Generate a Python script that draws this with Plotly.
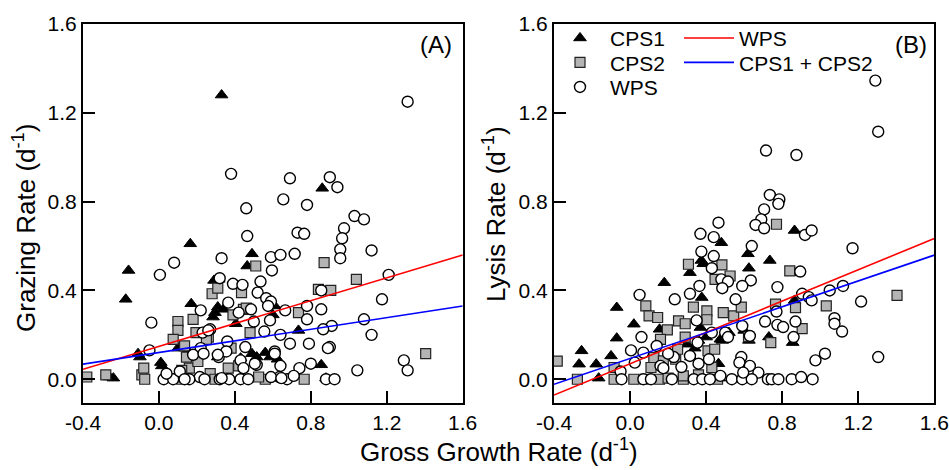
import plotly.graph_objects as go

# ---------------- DATA ----------------
# Panel A: Grazing rate vs gross growth rate
a_cps1_x = [0.33, 0.86, 0.165, -0.16, -0.175, 0.49, 0.465, 0.29, 0.315, 0.17, 0.31, 0.34, 0.295, 0.285, 0.405,
            0.61, 0.60, 0.735, -0.10, -0.11, 0.015, 0.01, -0.26, -0.24, 0.16, 0.235, 0.10, 0.43, 0.49, 0.515,
            0.56, 0.585, 0.625, 0.855, 0.88, 0.36, 0.31, 0.15]
a_cps1_y = [1.28, 0.86, 0.61, 0.49, 0.36, 0.565, 0.51, 0.445, 0.45, 0.34, 0.325, 0.315, 0.30, 0.28, 0.25,
            0.33, 0.29, 0.22, 0.10, 0.115, 0.06, 0.075, 0.01, 0.005, 0.01, 0.005, 0.14, 0.095, 0.115, 0.10,
            0.12, 0.10, 0.09, 0.065, 0.005, 0.005, 0.10, 0.13]

a_cps2_x = [-0.38, -0.28, -0.09, -0.075, -0.08, 0.10, 0.10, 0.075, 0.135, 0.18, 0.195, 0.145, 0.16, 0.12, 0.12,
            0.205, 0.28, 0.31, 0.435, 0.445, 0.46, 0.51, 0.48, 0.39, 0.365, 0.27, 0.295, 0.26, 0.25, 0.87,
            1.04, 0.84, 0.905, 0.735, 1.405, 0.765, 0.56, 0.525, 0.38, 0.42]
a_cps2_y = [0.01, 0.02, 0.02, 0.0, 0.05, 0.26, 0.22, 0.18, 0.15, 0.27, 0.21, 0.10, 0.05, 0.04, 0.0,
            0.08, 0.385, 0.41, 0.39, 0.315, 0.32, 0.51, 0.21, 0.29, 0.05, 0.025, 0.0, 0.19, 0.18, 0.525,
            0.45, 0.405, 0.40, 0.30, 0.115, 0.0, 0.0, 0.01, 0.14, 0.06]

a_wps_x = [1.31, 0.38, 0.69, 0.90, 0.94, 0.655, 0.78, 0.46, 1.03, 1.08, 0.975, 0.965, 0.955, 0.955, 0.73,
           0.765, 0.465, 1.12, 0.33, 0.59, 0.64, 0.715, 0.08, 0.005, 0.595, 1.21, 1.175, 0.855, 0.855, -0.04,
           -0.05, 0.22, 0.27, 0.23, 0.32, 0.39, 0.44, 0.365, 0.42, 0.535, 0.52, 0.565, 0.59, 0.575, 0.485,
           0.50, 0.585, 0.555, 0.64, 0.665, 0.78, 0.78, 0.91, 0.865, 1.08, 1.12, 0.69, 0.79, 0.90, 0.61,
           0.455, 0.36, 0.22, 0.18, 0.315, 0.43, 0.445, 0.515, 0.64, 0.74, 0.80, 1.045, 1.29, 1.31, 0.025,
           0.075, 0.04, 0.11, 0.32, 0.37, 0.43, 0.47, 0.635, 0.675, 0.71, 0.88, 0.925, 0.215, 0.235, 0.24,
           0.33, 0.59, 0.645, 0.505, 0.61, 0.355, 0.31, 0.26, 0.89, 0.16, 0.135]
a_wps_y = [1.25, 0.925, 0.905, 0.91, 0.865, 0.81, 0.785, 0.77, 0.735, 0.72, 0.68, 0.635, 0.585, 0.545, 0.66,
           0.655, 0.645, 0.58, 0.545, 0.55, 0.56, 0.565, 0.525, 0.47, 0.49, 0.47, 0.36, 0.315, 0.40, 0.255,
           0.13, 0.31, 0.225, 0.21, 0.455, 0.43, 0.425, 0.345, 0.30, 0.44, 0.39, 0.365, 0.35, 0.33, 0.315,
           0.26, 0.265, 0.215, 0.20, 0.31, 0.33, 0.27, 0.24, 0.225, 0.27, 0.20, 0.16, 0.16, 0.145, 0.125,
           0.145, 0.17, 0.14, 0.11, 0.10, 0.085, 0.05, 0.065, 0.06, 0.05, 0.07, 0.04, 0.085, 0.04, 0.0,
           0.0, 0.025, 0.035, 0.0, 0.0, 0.0, 0.0, 0.01, 0.0, 0.015, 0.0, 0.0, 0.01, 0.115, 0.0,
           0.005, 0.01, 0.005, 0.07, 0.115, 0.125, 0.11, 0.22, 0.14, 0.0, 0.0]

# Panel B: Lysis rate vs gross growth rate
b_cps1_x = [0.48, 0.375, 0.385, 0.315, 0.62, 0.625, 0.735, 0.865, 0.18, -0.07, 0.02, -0.07, -0.255, -0.10,
            -0.268, -0.178, -0.165, 0.155, 0.377, 0.37, 0.30, 0.36, 0.475, 0.485, 0.52, 0.60, 0.625, 0.73,
            0.855, 0.865, 0.865, 0.465, 0.47, 0.34, 0.40, 0.32]
b_cps1_y = [0.615, 0.535, 0.52, 0.48, 0.565, 0.50, 0.535, 0.67, 0.435, 0.323, 0.248, 0.185, 0.128, 0.105,
            0.068, 0.068, 0.005, 0.225, 0.368, 0.233, 0.158, 0.175, 0.18, 0.175, 0.21, 0.22, 0.175, 0.19,
            0.165, 0.355, 0.48, 0.07, 0.005, 0.14, 0.19, 0.10]

b_cps2_x = [-0.383, -0.277, -0.084, -0.084, 0.02, 0.08, 0.155, 0.28, 0.28, 0.083, 0.10, 0.145, 0.196, 0.16,
            0.125, 0.11, 0.175, 0.24, 0.25, 0.255, 0.29, 0.29, 0.307, 0.333, 0.404, 0.404, 0.447, 0.483,
            0.526, 0.49, 0.545, 0.585, 0.623, 0.41, 0.445, 0.43, 0.77, 0.84, 0.87, 0.905, 0.74, 0.765,
            1.032, 1.404, 0.20, 0.36, 0.46]
b_cps2_y = [0.082, 0.0, 0.053, 0.0, 0.0, 0.0, 0.0, 0.0, 0.015, 0.33, 0.285, 0.278, 0.222, 0.18,
            0.098, 0.053, 0.083, 0.09, 0.135, 0.263, 0.25, 0.19, 0.518, 0.325, 0.308, 0.268, 0.45, 0.515,
            0.465, 0.30, 0.285, 0.325, 0.192, 0.128, 0.135, 0.053, 0.698, 0.488, 0.323, 0.228, 0.165, 0.338,
            0.33, 0.378, 0.005, 0.02, 0.0]

b_wps_x = [1.29, 1.305, 0.715, 0.875, 0.735, 0.785, 0.78, 0.705, 0.69, 0.66, 0.705, 0.465, 0.37, 0.44, 0.375,
           0.44, 0.92, 0.955, 0.64, 0.635, 0.59, 1.17, 0.895, 0.775, 0.43, 0.48, 0.515, 0.485, 0.365, 0.315,
           0.05, 0.235, 0.555, 1.05, 1.12, 1.215, 0.905, 0.94, 0.955, 0.77, 0.71, 0.775, 0.805, 0.87, 0.86,
           1.075, 1.075, 1.115, 0.06, 0.005, 0.07, 0.025, -0.05, 0.14, 0.23, 0.27, 0.315, 0.35, 0.355, 0.36,
           0.43, 0.50, 0.515, 0.59, 0.63, 0.585, 0.575, 0.63, 0.675, 0.975, 1.025, 1.305, -0.045, 0.07, 0.22,
           0.335, 0.38, 0.42, 0.475, 0.535, 0.59, 0.64, 0.725, 0.745, 0.78, 0.85, 0.90, 0.96, 0.595, 0.16,
           0.11, 0.175, 0.415, 0.20]
b_wps_y = [1.345, 1.115, 1.03, 1.01, 0.83, 0.81, 0.79, 0.765, 0.72, 0.695, 0.68, 0.705, 0.655, 0.64, 0.575,
           0.555, 0.65, 0.67, 0.60, 0.445, 0.42, 0.59, 0.485, 0.415, 0.50, 0.45, 0.44, 0.41, 0.42, 0.385,
           0.38, 0.36, 0.36, 0.40, 0.42, 0.35, 0.385, 0.37, 0.355, 0.305, 0.26, 0.245, 0.235, 0.26, 0.19,
           0.275, 0.25, 0.215, 0.19, 0.13, 0.12, 0.075, 0.035, 0.15, 0.10, 0.055, 0.105, 0.265, 0.165, 0.07,
           0.21, 0.21, 0.19, 0.24, 0.195, 0.10, 0.075, 0.06, 0.03, 0.085, 0.115, 0.10, 0.0, 0.0, 0.0,
           0.0, 0.0, 0.0, 0.015, 0.0, 0.0, 0.0, 0.0, 0.0, 0.0, 0.0, 0.01, 0.0, 0.03, 0.06,
           0.0, 0.05, 0.09, 0.115]

# Regression lines (end points)
fit_x = [-0.4, 1.6]
a_wps_fit_y = [0.045, 0.56]
a_cps_fit_y = [0.068, 0.33]
b_wps_fit_y = [-0.071, 0.634]
b_cps_fit_y = [-0.023, 0.559]

x_ticks = [-0.4, 0.0, 0.4, 0.8, 1.2, 1.6]
x_ticktext = ["-0.4", "0.0", "0.4", "0.8", "1.2", "1.6"]
y_ticks = [0.0, 0.4, 0.8, 1.2, 1.6]
y_ticktext = ["0.0", "0.4", "0.8", "1.2", "1.6"]

# ---------------- FIGURE ----------------
W, H = 949, 470
FONT = "Arial, Liberation Sans, sans-serif"

tri = dict(symbol="triangle-up", size=11, color="black", line=dict(color="black", width=1))
sq = dict(symbol="square", size=10, color="#b4b4b4", line=dict(color="#222222", width=1.2))
circ = dict(symbol="circle", size=11, color="white", line=dict(color="black", width=1.4))

fig = go.Figure()

def add_panel(xa, ya, c1x, c1y, c2x, c2y, wx, wy, wfit, cfit, show):
    fig.add_trace(go.Scatter(x=c1x, y=c1y, mode="markers", marker=tri, name="CPS1",
                             xaxis=xa, yaxis=ya, showlegend=show, legend="legend"))
    fig.add_trace(go.Scatter(x=c2x, y=c2y, mode="markers", marker=sq, name="CPS2",
                             xaxis=xa, yaxis=ya, showlegend=show, legend="legend3"))
    fig.add_trace(go.Scatter(x=wx, y=wy, mode="markers", marker=circ, name="WPS",
                             xaxis=xa, yaxis=ya, showlegend=show, legend="legend4"))
    fig.add_trace(go.Scatter(x=fit_x, y=wfit, mode="lines", line=dict(color="#ff0000", width=1.6),
                             name="WPS", xaxis=xa, yaxis=ya, showlegend=show, legend="legend2"))
    fig.add_trace(go.Scatter(x=fit_x, y=cfit, mode="lines", line=dict(color="#0000ff", width=1.6),
                             name="CPS1 + CPS2", xaxis=xa, yaxis=ya, showlegend=show, legend="legend5"))

add_panel("x", "y", a_cps1_x, a_cps1_y, a_cps2_x, a_cps2_y, a_wps_x, a_wps_y, a_wps_fit_y, a_cps_fit_y, False)
add_panel("x2", "y2", b_cps1_x, b_cps1_y, b_cps2_x, b_cps2_y, b_wps_x, b_wps_y, b_wps_fit_y, b_cps_fit_y, True)

xa_common = dict(range=[-0.4, 1.6], tickvals=x_ticks, ticktext=x_ticktext, ticks="inside", ticklen=12,
                 tickwidth=2, tickcolor="black", showline=True, linewidth=2, linecolor="black", mirror=True,
                 showgrid=False, zeroline=False, automargin=False,
                 tickfont=dict(size=21, color="black", family=FONT))
ya_common = dict(range=[-0.107, 1.6], tickvals=y_ticks, ticktext=y_ticktext, ticks="inside", ticklen=12,
                 tickwidth=2, tickcolor="black", showline=True, linewidth=2, linecolor="black", mirror=True,
                 showgrid=False, zeroline=False, automargin=False,
                 tickfont=dict(size=21, color="black", family=FONT))


def leg(xpx, ypx):
    return dict(x=xpx / W, y=1 - ypx / H, xanchor="left", yanchor="middle", bgcolor="rgba(0,0,0,0)",
                font=dict(size=21, family=FONT), itemwidth=50, tracegroupgap=0, borderwidth=0)


y_dom = [1 - 403 / H, 1 - 24 / H]
fig.update_layout(
    template="none",
    width=W, height=H, margin=dict(l=0, r=0, t=0, b=0, pad=0, autoexpand=False),
    paper_bgcolor="white", plot_bgcolor="white",
    font=dict(family=FONT, color="black"),
    xaxis=dict(domain=[83 / W, 462.7 / W], anchor="y", **xa_common),
    yaxis=dict(domain=y_dom, anchor="x", **ya_common),
    xaxis2=dict(domain=[554 / W, 934.3 / W], anchor="y2", **xa_common),
    yaxis2=dict(domain=y_dom, anchor="x2", **ya_common),
    legend=leg(550, 38.3),
    legend3=leg(550, 62.7),
    legend4=leg(550, 87.3),
    legend2=leg(679, 38.3),
    legend5=leg(679, 62.7),
    annotations=[
        dict(text="(A)", x=436 / W, y=1 - 45 / H, xref="paper", yref="paper", showarrow=False,
             font=dict(size=24, family=FONT), xanchor="center", yanchor="middle"),
        dict(text="(B)", x=911 / W, y=1 - 45 / H, xref="paper", yref="paper", showarrow=False,
             font=dict(size=24, family=FONT), xanchor="center", yanchor="middle"),
        dict(text="Grazing Rate (d<sup>-1</sup>)", x=24 / W, y=1 - 228 / H, xref="paper", yref="paper",
             showarrow=False, textangle=-90, font=dict(size=26, family=FONT), xanchor="center", yanchor="middle"),
        dict(text="Lysis Rate (d<sup>-1</sup>)", x=494 / W, y=1 - 214 / H, xref="paper", yref="paper",
             showarrow=False, textangle=-90, font=dict(size=26, family=FONT), xanchor="center", yanchor="middle"),
        dict(text="Gross Growth Rate (d<sup>-1</sup>)", x=499 / W, y=1 - 450 / H, xref="paper", yref="paper",
             showarrow=False, font=dict(size=26, family=FONT), xanchor="center", yanchor="middle"),
    ],
)

fig.write_html("out.html", config={"displayModeBar": False},
               post_script="document.body.style.margin='0px';")
